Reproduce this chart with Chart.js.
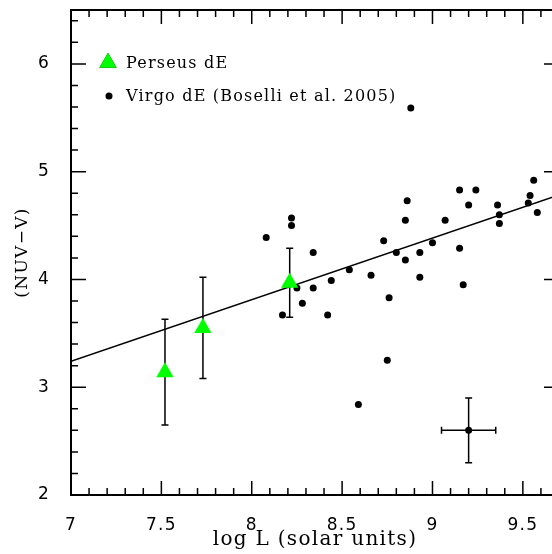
<!DOCTYPE html>
<html>
<head>
<meta charset="utf-8">
<script src="https://cdn.jsdelivr.net/npm/chart.js@4"></script>
<style>
  html, body { margin: 0; padding: 0; background: #fff; overflow: hidden; }
  canvas { display: block; }
</style>
</head>
<body>
<canvas id="myChart" width="570" height="554"></canvas>
<script>
// Virgo dE (Boselli et al. 2005)
const virgoX = [8.08, 8.22, 8.22, 8.34, 8.73, 8.80, 8.54, 8.66, 8.44, 8.25, 8.34, 8.28, 8.17,
                8.42, 8.76, 8.86, 8.85, 8.85, 8.93, 8.93, 9.00, 9.07, 9.15, 9.24, 9.20, 9.15,
                9.17, 9.36, 9.37, 9.37, 9.53, 9.54, 9.56, 9.58, 8.88, 8.75, 8.59];
const virgoY = [4.39, 4.57, 4.50, 4.25, 4.36, 4.25, 4.09, 4.04, 3.99, 3.92, 3.92, 3.78, 3.67,
                3.67, 3.83, 4.73, 4.55, 4.18, 4.25, 4.02, 4.34, 4.55, 4.83, 4.83, 4.69, 4.29,
                3.95, 4.69, 4.60, 4.52, 4.71, 4.78, 4.92, 4.62, 5.59, 3.25, 2.84];

// Perseus dE
const perseusX = [7.52, 7.73, 8.21];
const perseusY = [3.14, 3.55, 3.97];
const perseusErr = [0.49, 0.47, 0.32];

// linear fit
const fitX = [7.0, 9.7];
const fitY = [3.24, 4.785];

// typical error bar
const sampleX = [9.2];
const sampleY = [2.6];
const sampleErrX = [0.15];
const sampleErrY = [0.3];

const xMin = 7, xMax = 9.7, yMin = 2, yMax = 6.5;

const pts = (xs, ys) => xs.map((v, i) => ({x: v, y: ys[i]}));

Chart.defaults.color = '#000';
Chart.defaults.font.family = 'DejaVu Sans';

const textSpacing = {
  id: 'textSpacing',
  beforeDraw(chart) { chart.ctx.letterSpacing = '1.3px'; },
  afterDraw(chart) { chart.ctx.letterSpacing = '0px'; }
};

const errorBars = {
  id: 'errorBars',
  beforeDatasetsDraw(chart) {
    const {ctx, scales: {x, y}} = chart;
    ctx.save();
    ctx.strokeStyle = '#000';
    ctx.lineWidth = 1.5;
    ctx.beginPath();
    const vbar = (xv, yv, e) => {
      const px = x.getPixelForValue(xv);
      const t = y.getPixelForValue(yv + e), b = y.getPixelForValue(yv - e);
      ctx.moveTo(px, t); ctx.lineTo(px, b);
      ctx.moveTo(px - 3.5, t); ctx.lineTo(px + 3.5, t);
      ctx.moveTo(px - 3.5, b); ctx.lineTo(px + 3.5, b);
    };
    perseusX.forEach((v, i) => vbar(v, perseusY[i], perseusErr[i]));
    sampleX.forEach((v, i) => {
      vbar(v, sampleY[i], sampleErrY[i]);
      const py = y.getPixelForValue(sampleY[i]);
      const l = x.getPixelForValue(v - sampleErrX[i]), r = x.getPixelForValue(v + sampleErrX[i]);
      ctx.moveTo(l, py); ctx.lineTo(r, py);
      ctx.moveTo(l, py - 3.5); ctx.lineTo(l, py + 3.5);
      ctx.moveTo(r, py - 3.5); ctx.lineTo(r, py + 3.5);
    });
    ctx.stroke();
    ctx.restore();
  }
};

const frameTicks = {
  id: 'frameTicks',
  afterDatasetsDraw(chart) {
    const {ctx, chartArea: a, scales: {x, y}} = chart;
    ctx.save();
    ctx.strokeStyle = '#000';
    ctx.lineWidth = 1.5;
    ctx.beginPath();
    for (let i = 0; i <= Math.round((xMax - xMin) * 10); i++) {
      const px = x.getPixelForValue(xMin + i / 10);
      const len = i % 5 === 0 ? 14 : 7;
      ctx.moveTo(px, a.bottom); ctx.lineTo(px, a.bottom - len);
      ctx.moveTo(px, a.top); ctx.lineTo(px, a.top + len);
    }
    for (let i = 0; i <= Math.round((yMax - yMin) * 5); i++) {
      const py = y.getPixelForValue(yMin + i / 5);
      const len = i % 5 === 0 ? 15 : 7;
      ctx.moveTo(a.left, py); ctx.lineTo(a.left + len, py);
      ctx.moveTo(a.right, py); ctx.lineTo(a.right - len, py);
    }
    ctx.stroke();
    ctx.lineWidth = 2;
    ctx.strokeRect(a.left, a.top, a.right - a.left, a.bottom - a.top);
    ctx.restore();
  }
};

const legendBox = {
  id: 'legendBox',
  afterDatasetsDraw(chart) {
    const {ctx} = chart;
    ctx.save();
    ctx.letterSpacing = '1.2px';
    ctx.font = '16px "DejaVu Serif"';
    ctx.fillStyle = '#000';
    ctx.textBaseline = 'alphabetic';
    Chart.helpers.drawPoint(ctx, {pointStyle: 'triangle', radius: 10, borderWidth: 0}, 108, 62.7);
    ctx.fillStyle = '#00ff00';
    ctx.fill();
    ctx.fillStyle = '#000';
    ctx.beginPath();
    ctx.arc(109, 96, 3.5, 0, Math.PI * 2);
    ctx.fill();
    ctx.fillText('Perseus dE', 126, 68);
    ctx.fillText('Virgo dE (Boselli et al. 2005)', 126, 101);
    ctx.restore();
  }
};

new Chart(document.getElementById('myChart'), {
  type: 'scatter',
  data: {
    datasets: [
      {
        label: 'fit',
        type: 'line',
        data: pts(fitX, fitY),
        borderColor: '#000',
        borderWidth: 1.5,
        pointRadius: 0,
        fill: false,
        order: 4
      },
      {
        label: 'Virgo dE (Boselli et al. 2005)',
        data: pts(virgoX, virgoY),
        pointRadius: 3.5,
        backgroundColor: '#000',
        borderWidth: 0,
        order: 2
      },
      {
        label: 'error',
        data: pts(sampleX, sampleY),
        pointRadius: 3.5,
        backgroundColor: '#000',
        borderWidth: 0,
        order: 2
      },
      {
        label: 'Perseus dE',
        data: pts(perseusX, perseusY),
        pointStyle: 'triangle',
        pointRadius: 10,
        backgroundColor: '#00ff00',
        borderWidth: 0,
        order: 1
      }
    ]
  },
  options: {
    responsive: false,
    animation: false,
    devicePixelRatio: 1,
    layout: {padding: {top: 8, right: 11, left: 0, bottom: 0}},
    plugins: {legend: {display: false}, tooltip: {enabled: false}},
    scales: {
      x: {
        type: 'linear',
        min: xMin, max: xMax,
        grid: {display: false},
        border: {display: false},
        ticks: {stepSize: 0.5, includeBounds: false, autoSkip: false, padding: 12,
                font: {size: 17}, maxRotation: 0,
                callback: (v) => String(Math.round(v * 10) / 10)},
        title: {display: true, text: 'log L (solar units)', padding: {top: 0, bottom: 2},
                font: {family: 'DejaVu Serif', size: 20}},
        afterFit(s) { s.height = 59; s.paddingLeft = 0; s.paddingRight = 0; }
      },
      y: {
        type: 'linear',
        min: yMin, max: yMax,
        grid: {display: false},
        border: {display: false},
        ticks: {stepSize: 1, includeBounds: false, autoSkip: false, padding: 13,
                font: {size: 17},
                callback: (v) => String(Math.round(v * 10) / 10)},
        title: {display: true, text: '(NUV\u2212V)', padding: {top: 12, bottom: 0},
                font: {family: 'DejaVu Serif', size: 17}},
        afterFit(s) { s.width = 71; s.paddingTop = 0; s.paddingBottom = 0; }
      }
    }
  },
  plugins: [textSpacing, errorBars, frameTicks, legendBox]
});
</script>
</body>
</html>
